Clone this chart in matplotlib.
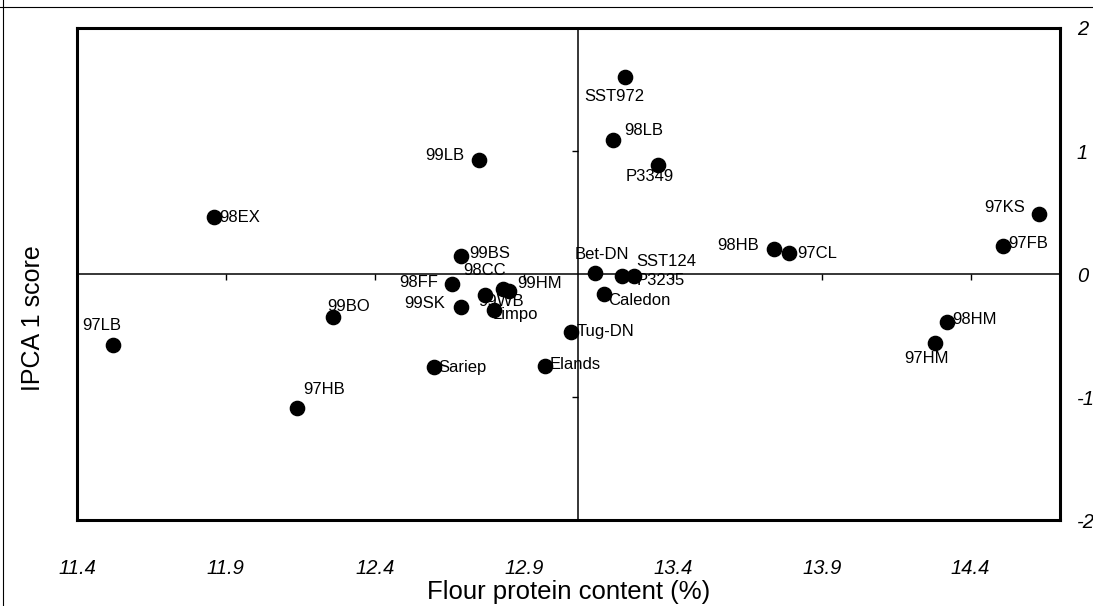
import numpy as np
import matplotlib
matplotlib.use("Agg")
import matplotlib.pyplot as plt
from matplotlib.lines import Line2D

plt.rcParams['font.family'] = ['Liberation Sans', 'DejaVu Sans']

# genotype / environment codes with flour protein (%) and IPCA 1 score
codes = ['97LB', '98EX', '99BO', '97HB', '99BS', '98CC', '98FF', '99SK',
         '99WB', '99HM', 'Limpo', 'Sariep', '99LB', 'Elands', 'Tug-DN',
         'Bet-DN', 'Caledon', 'SST124', 'P3235', 'SST972', '98LB', 'P3349',
         '98HB', '97CL', '97HM', '98HM', '97FB', '97KS']
protein = [11.52, 11.86, 12.26, 12.14, 12.69, 12.83, 12.66, 12.69,
           12.77, 12.85, 12.80, 12.60, 12.75, 12.97, 13.06,
           13.14, 13.17, 13.23, 13.27, 13.24, 13.20, 13.35,
           13.74, 13.79, 14.28, 14.32, 14.51, 14.63]
ipca1 = [-0.58, 0.46, -0.35, -1.09, 0.15, -0.12, -0.08, -0.27,
         -0.17, -0.14, -0.29, -0.76, 0.93, -0.75, -0.47,
         0.01, -0.16, -0.02, -0.02, 1.60, 1.09, 0.89,
         0.20, 0.17, -0.56, -0.39, 0.23, 0.49]

x_ticks = [11.4, 11.9, 12.4, 12.9, 13.4, 13.9, 14.4]
y_ticks = [-2, -1, 0, 1, 2]

# label placement: (dx, dy) in pixels from the point, horizontal alignment
label_pos = {
    '97LB': (-11, 20, 'center'), '98EX': (5, 0, 'left'),
    '99BO': (-6, 11, 'left'), '97HB': (6, 19, 'left'),
    '99BS': (8, 2, 'left'), '98CC': (-40, 18, 'left'),
    '98FF': (-14, 1, 'right'), '99SK': (-16, 4, 'right'),
    '99WB': (-7, -7, 'left'), '99HM': (8, 8, 'left'),
    'Limpo': (-1, -5, 'left'), 'Sariep': (4, 0, 'left'),
    '99LB': (-15, 4, 'right'), 'Elands': (5, 2, 'left'),
    'Tug-DN': (5, 0, 'left'), 'Bet-DN': (7, 18, 'center'),
    'Caledon': (4, -7, 'left'), 'SST124': (14, 15, 'left'),
    'P3235': (3, -4, 'left'), 'SST972': (-11, -19, 'center'),
    '98LB': (11, 9, 'left'), 'P3349': (-8, -12, 'center'),
    '98HB': (-15, 4, 'right'), '97CL': (8, 0, 'left'),
    '97HM': (-8, -16, 'center'), '98HM': (5, 2, 'left'),
    '97FB': (5, 2, 'left'), '97KS': (-14, 6, 'right'),
}

fig = plt.figure(figsize=(10.93, 6.06), dpi=100)
ax = fig.add_axes([0.0704, 0.1419, 0.8994, 0.8119])

ax.set_xlim(11.4, 14.7)
ax.set_ylim(-2, 2)

# reference lines through the mean protein content and zero score
ax.axhline(0, color='black', lw=1.1, zorder=1)
ax.axvline(np.mean(protein), color='black', lw=1.1, zorder=1)
ax.plot(x_ticks[1:], [0] * (len(x_ticks) - 1), ls='none', marker=3,
        ms=4, color='black', mew=1)
ax.plot([np.mean(protein)] * 2, [-1, 1], ls='none', marker=0,
        ms=4, color='black', mew=1)

ax.scatter(protein, ipca1, s=105, color='black', zorder=3)

for name, x, y in zip(codes, protein, ipca1):
    dx, dy, ha = label_pos[name]
    ax.annotate(name, (x, y), xytext=(dx, dy), textcoords='offset pixels',
                ha=ha, va='center', fontsize=12, zorder=4)

for side in ['left', 'right', 'top', 'bottom']:
    ax.spines[side].set_linewidth(2.2)

ax.set_xticks(x_ticks)
ax.set_xticklabels([f'{v:.1f}' for v in x_ticks], fontsize=14.5, style='italic')
ax.set_yticks(y_ticks)
ax.set_yticklabels([str(v) for v in y_ticks], fontsize=14.5, style='italic')
ax.tick_params(axis='x', length=0, pad=28)
ax.tick_params(axis='y', length=0, pad=12, left=False, labelleft=False,
               right=True, labelright=True)

ax.set_xlabel('Flour protein content (%)', fontsize=18.5)
ax.xaxis.set_label_coords(0.5, -0.1225)
ax.set_ylabel('IPCA 1 score', fontsize=18)
ax.yaxis.set_label_position('left')
ax.yaxis.set_label_coords(-0.033, 0.41)

# thin page border along the top and left edges
fig.add_artist(Line2D([0, 1], [1 - 7 / 606] * 2, color='black', lw=0.8))
fig.add_artist(Line2D([3 / 1093] * 2, [0, 1], color='black', lw=0.8))

fig.savefig('out.png', dpi=100)
